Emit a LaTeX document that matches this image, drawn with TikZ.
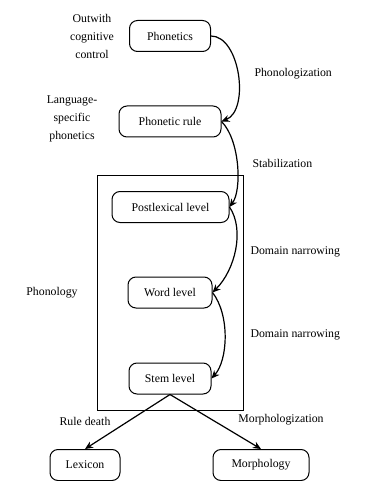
\documentclass[tikz,border=0pt]{standalone}
\usepackage{fontspec}
\setmainfont{Liberation Serif}
\usetikzlibrary{arrows.meta}
\begin{document}
\begin{tikzpicture}[x=1pt,y=-1pt,
  box/.style={draw,line width=1pt,rounded corners=8pt,minimum height=31pt,inner xsep=6pt,font=\fontsize{11.8}{13}\selectfont},
  lbl/.style={font=\fontsize{11.8}{18}\selectfont,align=center},
  arr/.style={line width=1.2pt,-{Stealth[length=8pt,width=7pt,inset=2.5pt]}}]
\useasboundingbox (0,0) rectangle (369,481);
\node[draw,line width=1pt,minimum width=146pt,minimum height=235pt,inner sep=0pt] (frame) at (170,292.5) {};
\node[box,minimum width=81pt] (phon) at (170,36) {Phonetics};
\node[box,minimum width=102pt] (rule) at (170,121.5) {Phonetic rule};
\node[box,minimum width=117pt] (post) at (170.5,207) {Postlexical level};
\node[box,minimum width=84pt] (word) at (170,292.5) {Word level};
\node[box,minimum width=82pt] (stem) at (170,378.5) {Stem level};
\node[box,minimum width=70pt] (lex) at (85,465) {Lexicon};
\node[box,minimum width=96pt] (morph) at (261,465) {Morphology};
\node[lbl] (t1) at (92,36) {Outwith\\cognitive\\control};
\node[lbl] (t2) at (72,119) {Language-\\specific\\phonetics};
\node[lbl,anchor=west] (t3) at (251,74) {Phonologization};
\node[lbl,anchor=west] (t4) at (249,163) {Stabilization};
\node[lbl,anchor=west] (t5) at (247,252) {Domain narrowing};
\node[lbl,anchor=west] (t6) at (247,335) {Domain narrowing};
\node[lbl] (t7) at (52,293) {Phonology};
\node[lbl] (t8) at (85,421) {Rule death};
\node[lbl] (t9) at (281,420) {Morphologization};
\draw[arr] (phon.east) .. controls (240,36) and (250,110) .. (rule.east);
\draw[arr] (rule.east) .. controls (240,140) and (242,190) .. (post.east);
\draw[arr] (post.east) .. controls (245,230) and (235,270) .. (word.east);
\draw[arr] (word.east) .. controls (230,315) and (228,360) .. (stem.east);
\coordinate (s) at (stem.south);
\draw[arr] (s) -- (lex.north);
\draw[arr] (s) -- (morph.north);
\end{tikzpicture}
\end{document}
